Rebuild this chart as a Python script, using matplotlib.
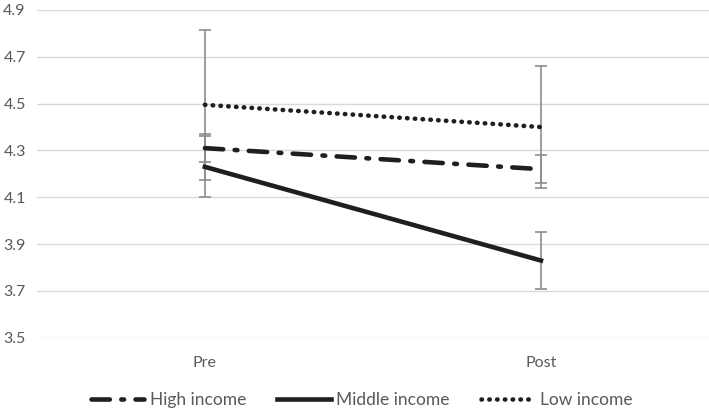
import matplotlib.pyplot as plt
import numpy as np

plt.rcParams['font.family'] = ['Lato', 'DejaVu Sans']

phases = ["Pre", "Post"]
series = ["High income", "Middle income", "Low income"]
means = {
    "High income": [4.31, 4.22],
    "Middle income": [4.23, 3.83],
    "Low income": [4.495, 4.40],
}
errs = {
    "High income": [0.06, 0.06],
    "Middle income": [0.13, 0.12],
    "Low income": [0.32, 0.26],
}
yticks = [3.5, 3.7, 3.9, 4.1, 4.3, 4.5, 4.7, 4.9]

styles = {
    "High income": dict(linestyle=(0, (4, 2.5, 0.6, 2.5)), dash_capstyle='round'),
    "Middle income": dict(linestyle='-'),
    "Low income": dict(linestyle=(0, (0.1, 1.6)), dash_capstyle='round'),
}

fig = plt.figure(figsize=(7.09, 4.15), dpi=100)
ax = fig.add_axes([0.052, 0.186, 0.948, 0.79])

x = np.arange(len(phases))
for s in series:
    ax.errorbar(x, means[s], yerr=errs[s], fmt='none', ecolor='#8c8c8c',
                elinewidth=1.2, capsize=4, capthick=1.2, zorder=2)
for s in series:
    ax.plot(x, means[s], color='#1f1f1f', linewidth=3.3, label=s, zorder=3,
            **styles[s])

ax.set_xlim(-0.5, 1.5)
ax.set_ylim(3.5, 4.9)
ax.set_yticks(yticks)
ax.set_yticklabels(["%.1f" % v for v in yticks])
ax.set_xticks(x)
ax.set_xticklabels(phases)
ax.grid(axis='y', color='#d9d9d9', linewidth=1)
ax.set_axisbelow(True)
for sp in ax.spines.values():
    sp.set_visible(False)
ax.tick_params(length=0, labelsize=11.5, colors='#595959', pad=8)
ax.tick_params(axis='x', pad=13)

leg = fig.legend(loc='center', bbox_to_anchor=(0.51, 0.035), ncol=3, frameon=False,
                 fontsize=12.5, handlelength=3.1, handletextpad=0.3, columnspacing=1.8)
for t in leg.get_texts():
    t.set_color('#595959')

fig.savefig("out.png", dpi=100)
